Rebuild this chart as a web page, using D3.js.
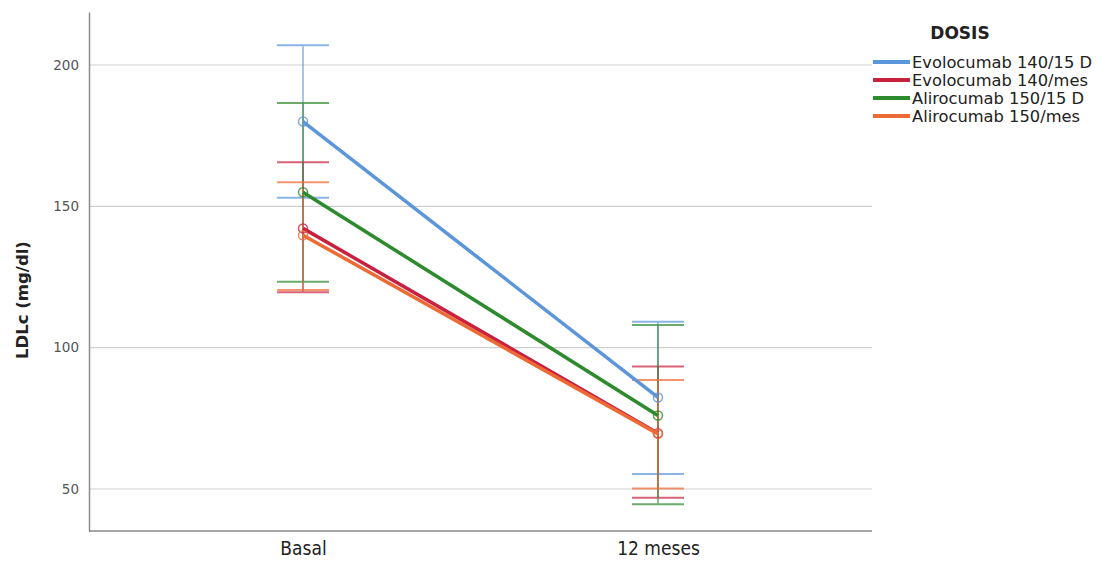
<!DOCTYPE html>
<html>
<head>
<meta charset="utf-8">
<script src="https://cdn.jsdelivr.net/npm/d3@7"></script>
<style>
  body { margin: 0; background: #fff; }
  text { font-family: "Open Sans", sans-serif; }
</style>
</head>
<body>
<div id="chart"></div>
<script>
// data
var times = ["Basal", "12 meses"];
var seriesNames = ["Evolocumab 140/15 D", "Evolocumab 140/mes", "Alirocumab 150/15 D", "Alirocumab 150/mes"];
var colors = ["#5b95da", "#c8203f", "#2d8a2d", "#ee6a34"];
var means = [[180, 82.4], [142.2, 69.7], [155, 76], [139.8, 69.5]];
var upper = [[207, 109.2], [165.6, 93.3], [186.6, 108], [158.5, 88.6]];
var lower = [[153, 55.3], [119.6, 46.9], [123.3, 44.6], [120.4, 50.2]];
var yTicks = [50, 100, 150, 200];

var W = 1111, H = 562;
var margin = {top: 12, right: 239, bottom: 31, left: 89},
    width = W - margin.left - margin.right,
    height = H - margin.top - margin.bottom;

var svg = d3.select("#chart")
  .append("svg")
    .attr("width", W)
    .attr("height", H)
  .append("g")
    .attr("transform", "translate(" + margin.left + "," + margin.top + ")");

var x = d3.scalePoint()
  .domain(times)
  .range([0, width])
  .padding(0.603);

var y = d3.scaleLinear()
  .domain([35.14, 218.75])
  .range([height, 0]);

// gridlines
svg.append("g")
  .selectAll("line")
  .data(yTicks)
  .enter()
  .append("line")
    .attr("x1", 0).attr("x2", width)
    .attr("y1", function (d) { return y(d); })
    .attr("y2", function (d) { return y(d); })
    .style("stroke", "#cfcfcf")
    .style("stroke-width", 1.2);

// Y axis
var yAxis = svg.append("g")
  .call(d3.axisLeft(y).tickValues(yTicks).tickSize(0).tickPadding(10));
yAxis.select(".domain").style("stroke", "#8a8a8a").style("stroke-width", 1.5);
yAxis.selectAll("text")
  .style("font-size", "13.5px")
  .style("fill", "#555")
  .style("font-family", "'DejaVu Sans', sans-serif");

// X axis
var xAxis = svg.append("g")
  .attr("transform", "translate(0," + height + ")")
  .call(d3.axisBottom(x).tickSize(0).tickPadding(11));
xAxis.select(".domain").attr("d", "M0,0H" + width).style("stroke", "#8a8a8a").style("stroke-width", 1.5);
xAxis.selectAll("text")
  .style("font-size", "19px")
  .style("fill", "#222")
  .style("font-family", "'DejaVu Sans Condensed', 'DejaVu Sans', sans-serif")
  .style("font-stretch", "condensed");

// y axis title
svg.append("text")
  .attr("transform", "translate(" + (22 - margin.left) + "," + (300 - margin.top) + ") rotate(-90)")
  .attr("text-anchor", "middle")
  .attr("dominant-baseline", "central")
  .style("font-size", "16.5px")
  .style("font-weight", "bold")
  .style("fill", "#222")
  .style("font-family", "'DejaVu Sans', sans-serif")
  .text("LDLc (mg/dl)");

var cap = 26;

// error bars
seriesNames.forEach(function (name, i) {
  var g = svg.append("g").style("stroke", colors[i]).style("opacity", 0.7);
  times.forEach(function (t, j) {
    var cx = x(t);
    g.append("line")
      .attr("x1", cx).attr("x2", cx)
      .attr("y1", y(upper[i][j])).attr("y2", y(lower[i][j]))
      .style("stroke-width", 1.5);
    g.append("line")
      .attr("x1", cx - cap).attr("x2", cx + cap)
      .attr("y1", y(upper[i][j])).attr("y2", y(upper[i][j]))
      .style("stroke-width", 2);
    g.append("line")
      .attr("x1", cx - cap).attr("x2", cx + cap)
      .attr("y1", y(lower[i][j])).attr("y2", y(lower[i][j]))
      .style("stroke-width", 2);
  });
});

// mean lines + points
var line = d3.line()
  .x(function (d, j) { return x(times[j]); })
  .y(function (d) { return y(d); });

seriesNames.forEach(function (name, i) {
  svg.append("path")
    .datum(means[i])
    .attr("d", line)
    .style("fill", "none")
    .style("stroke", colors[i])
    .style("stroke-width", 3.5);
  svg.append("g")
    .selectAll("circle")
    .data(means[i])
    .enter()
    .append("circle")
      .attr("cx", function (d, j) { return x(times[j]); })
      .attr("cy", function (d) { return y(d); })
      .attr("r", 4.5)
      .style("fill", "none")
      .style("stroke", colors[i])
      .style("stroke-width", 1.5)
      .style("opacity", 0.8);
});

// legend
var legend = svg.append("g")
  .attr("transform", "translate(" + (873 - margin.left) + "," + (0) + ")");
legend.append("text")
  .attr("x", 87).attr("y", 33 - margin.top)
  .attr("text-anchor", "middle")
  .attr("dominant-baseline", "central")
  .style("font-size", "17px")
  .style("font-weight", "bold")
  .style("fill", "#222")
  .style("font-family", "'DejaVu Sans', sans-serif")
  .text("DOSIS");

var items = legend.selectAll(".item")
  .data(seriesNames)
  .enter()
  .append("g")
    .attr("transform", function (d, i) { return "translate(0," + (62 - margin.top + i * 18) + ")"; });
items.append("line")
  .attr("x1", 0).attr("x2", 37)
  .style("stroke", function (d, i) { return colors[i]; })
  .style("stroke-width", 4);
items.append("text")
  .attr("x", 39)
  .attr("dominant-baseline", "central")
  .style("font-size", "16.3px")
  .style("fill", "#222")
  .style("font-family", "'DejaVu Sans', sans-serif")
  .text(function (d) { return d; });
</script>
</body>
</html>
